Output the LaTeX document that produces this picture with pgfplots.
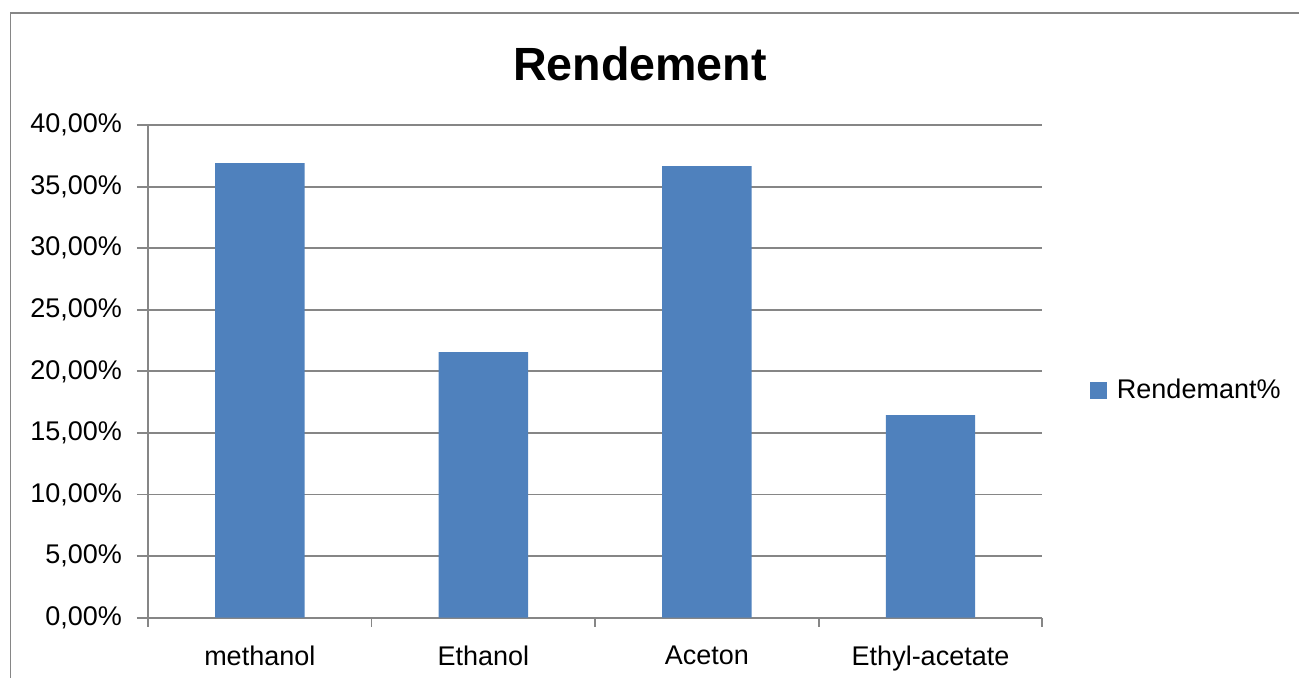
\documentclass[border=0pt]{standalone}
\usepackage{pgfplots}
\pgfplotsset{compat=1.18}
\usepackage{fontspec}
\setmainfont{Liberation Sans}
\definecolor{barblue}{HTML}{4F81BD}
\definecolor{gridgray}{HTML}{868686}
\begin{document}
\begin{tikzpicture}
\useasboundingbox (-74pt,-29.65pt) rectangle (575.5pt,308.85pt);
% outer chart frame
\draw[gridgray, line width=0.9pt] (-68.75pt,-40pt) -- (-68.75pt,302.35pt) -- (580pt,302.35pt);
\node[anchor=base, font=\fontsize{23.3}{27}\selectfont\bfseries] at (246pt,268.5pt) {Rendement};
\begin{axis}[
    at={(0,0)}, anchor=south west,
    scale only axis,
    width=447.15pt, height=246.35pt,
    xmin=0, xmax=4,
    ymin=0, ymax=40,
    axis x line*=bottom, axis y line*=left,
    axis line style={draw=gridgray, line width=0.9pt, -},
    ytick={0,5,...,40},
    ymajorgrids,
    grid style={gridgray, line width=0.9pt},
    xtick={0.5,1.5,2.5,3.5},
    xticklabels={methanol,Ethanol,Aceton,Ethyl-acetate},
    minor xtick={0,1,2,3,4},
    tick align=outside,
    major x tick style={draw=none},
    minor x tick style={gridgray, line width=0.9pt},
    major y tick style={gridgray, line width=0.9pt},
    major tick length=5.5pt,
    minor tick length=4.5pt,
    /pgf/number format/assume math mode=true,
    yticklabel={\pgfmathprintnumber[fixed,fixed zerofill,precision=2,use comma]{\tick}\%},
    ticklabel style={font=\fontsize{13.5}{16}\selectfont, text=black},
    xticklabel style={yshift=-5pt},
    yticklabel style={xshift=-4pt},
    legend style={at={(1.0533,0.461)}, anchor=west, draw=none, fill=none,
        font=\fontsize{13.5}{16}\selectfont, inner sep=0pt,
        /tikz/every odd column/.append style={column sep=3pt}},
    legend image code/.code={\fill[barblue] (0pt,-4.2pt) rectangle (8.3pt,4.2pt);},
]
\addplot[ybar, bar width=0.4, fill=barblue, draw=none] coordinates {
    (0.5,36.9) (1.5,21.57) (2.5,36.67) (3.5,16.45)
};
\legend{Rendemant\%}
\end{axis}
\end{tikzpicture}
\end{document}
